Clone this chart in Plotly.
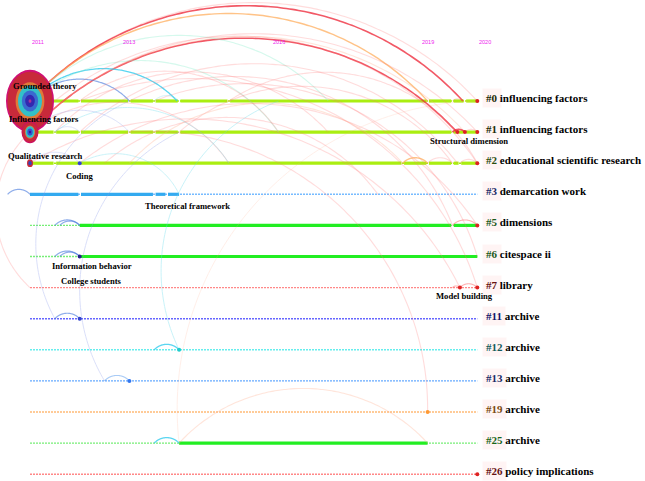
import numpy as np
import plotly.graph_objects as go

# ---------------------------------------------------------------- data
years_shown = [2011, 2013, 2016, 2019, 2020]

cluster_tags = ["#0", "#1", "#2", "#3", "#5", "#6", "#7", "#11", "#12", "#13", "#19", "#25", "#26"]
cluster_names = ["influencing factors", "influencing factors", "educational scientific research",
                 "demarcation work", "dimensions", "citespace ii", "library", "archive", "archive",
                 "archive", "archive", "archive", "policy implications"]
# years in which each cluster is active (solid part of its timeline)
cluster_active = [(2011.0, 2020.0), (2011.0, 2020.0), (2011.0, 2020.0), (2011.0, 2014.0),
                  (2012.0, 2020.0), (2012.0, 2020.0), None, None, None, None, None,
                  (2014.0, 2019.0), None]
# publication years of the nodes sitting on each timeline
cluster_nodes = [
    [2011.0, 2012.0, 2013.0, 2013.5, 2014.0, 2015.0, 2019.0, 2019.5, 2019.75, 2020.0],
    [2011.0, 2011.5, 2012.0, 2013.0, 2013.5, 2014.0, 2019.5, 2019.6, 2019.75, 2020.0],
    [2011.0, 2011.5, 2012.0, 2018.5, 2019.0, 2019.5, 2019.65, 2020.0],
    [2011.0, 2012.0, 2013.5, 2013.75, 2014.0],
    [2011.5, 2012.0, 2019.5, 2020.0],
    [2011.5, 2012.0],
    [2019.5, 2019.65, 2020.0],
    [2011.5, 2012.0],
    [2013.5, 2014.0],
    [2012.5, 2013.0],
    [2019.0],
    [2013.5, 2014.0, 2019.0],
    [2020.0],
]

# highlighted keywords: (label, year, row)
key_terms = [
    ("Grounded theory", 2011.0, 0),
    ("Influencing factors", 2011.0, 1),
    ("Qualitative research", 2011.0, 2),
    ("Coding", 2012.0, 2),
    ("Theoretical framework", 2014.0, 3),
    ("Information behavior", 2012.0, 5),
    ("College students", 2012.0, 5),
    ("Structural dimension", 2019.75, 1),
    ("Model building", 2019.65, 6),
]
# citation frequency of the three large nodes (drives their ring size)
key_node_freq = {"Grounded theory": 24.0, "Influencing factors": 8.5, "Qualitative research": 3.0}

# small node marks: (year, row, colour key)
node_marks = [
    (2020.0, 0, "red"), (2019.6, 1, "red"), (2019.75, 1, "red"), (2020.0, 1, "red"),
    (2020.0, 2, "red"), (2012.0, 2, "blue"), (2020.0, 4, "red"), (2012.0, 5, "navy"),
    (2019.65, 6, "red"), (2020.0, 6, "red"), (2012.0, 7, "blue"), (2014.0, 8, "cyan"),
    (2013.0, 9, "sky"), (2019.0, 10, "orange"), (2020.0, 12, "red"),
]

# co-occurrence links: (year_a, row_a, year_b, row_b, kind)
citation_links = [
    (2011.0, 0, 2020.0, 0, "pink"),
    (2011.0, 0, 2019.71, 0, "red"),
    (2011.0, 0, 2019.0, 0, "orange"),
    (2011.0, 1, 2019.59, 1, "red"),
    (2011.0, 1, 2019.75, 1, "peach"),
    (2011.0, 1, 2020.0, 1, "pink"),
    (2011.0, 0, 2013.96, 0, "cyan"),
    (2011.0, 0, 2013.0, 0, "blue"),
    (2011.0, 0, 2016.0, 1, "mint"),
    (2011.0, 0, 2017.0, 0, "mint"),
    (2011.5, 0, 2020.0, 2, "pink"),
    (2012.0, 1, 2019.6, 2, "pink"),
    (2011.0, 2, 2019.65, 6, "pink"),
    (2012.0, 2, 2020.0, 4, "pink"),
    (2013.0, 1, 2019.0, 10, "pink"),
    (2012.0, 0, 2020.0, 6, "pink"),
    (2013.5, 0, 2020.0, 5, "pink"),
    (2014.0, 1, 2019.5, 2, "pink"),
    (2015.0, 0, 2020.0, 2, "pink"),
    (2013.0, 2, 2018.5, 2, "peach"),
    (2011.5, 1, 2017.0, 1, "pink"),
    (2012.0, 0, 2016.0, 1, "pink"),
    (2011.0, 1, 2015.0, 2, "pink"),
    (2012.5, 2, 2018.0, 3, "pink"),
    (2013.0, 0, 2019.5, 4, "pink"),
    (2011.5, 1, 2015.0, 2, "ice"),
    (2012.0, 2, 2014.0, 3, "ice"),
    (2011.0, 1, 2013.0, 1, "lavender"),
    (2011.5, 1, 2012.0, 1, "lavender"),
    (2011.0, 2, 2012.0, 2, "lavender"),
    (2011.5, 7, 2013.0, 0, "lavender"),
    (2012.5, 9, 2014.0, 1, "lavender"),
    (2014.0, 8, 2016.0, 0, "ice"),
    (2014.0, 11, 2020.0, 0, "faint"),
    (2011.0, 6, 2011.0, 1, "pink"),
    (2010.55, 3, 2011.0, 3, "blue"),
    (2014.0, 11, 2019.0, 11, "peach"),
    # short links along the timelines
    (2013.5, 0, 2014.0, 0, "ice"),
    (2019.5, 0, 2019.71, 0, "pink"),
    (2019.5, 1, 2019.75, 1, "red"),
    (2019.75, 1, 2020.0, 1, "pink"),
    (2018.5, 2, 2019.0, 2, "orange"),
    (2019.0, 2, 2019.5, 2, "pink"),
    (2019.65, 2, 2020.0, 2, "pink"),
    (2011.5, 4, 2012.0, 4, "blue"),
    (2011.6, 4, 2012.0, 4, "blue"),
    (2019.5, 4, 2020.0, 4, "rose"),
    (2011.5, 5, 2012.0, 5, "blue"),
    (2011.6, 5, 2012.0, 5, "blue"),
    (2019.5, 6, 2019.65, 6, "rose"),
    (2019.65, 6, 2020.0, 6, "rose"),
    (2011.5, 7, 2012.0, 7, "blue"),
    (2013.5, 8, 2014.0, 8, "cyan"),
    (2012.5, 9, 2013.0, 9, "sky"),
    (2013.5, 11, 2014.0, 11, "cyan"),
]

# ---------------------------------------------------------------- styles
W, H = 645, 481
X0_PX, PX_YEAR, YEAR0 = 30.0, 49.7, 2011
Y0_PX, PX_ROW = 101.0, 31.1
ARC_ANGLE = np.radians(95)

LINK_STYLE = {
    "red": ("#ee2233", 0.75, 1.6),
    "rose": ("#ff6666", 0.5, 1.1),
    "pink": ("#ff7777", 0.25, 1.1),
    "faint": ("#ffaa88", 0.18, 1.0),
    "orange": ("#ffaa55", 0.7, 1.4),
    "peach": ("#ffaa88", 0.3, 1.1),
    "cyan": ("#33ccee", 0.8, 1.3),
    "blue": ("#4477dd", 0.6, 1.2),
    "mint": ("#88eecc", 0.35, 1.1),
    "ice": ("#66ddee", 0.35, 1.0),
    "lavender": ("#8899ee", 0.3, 1.0),
    "sky": ("#5599ee", 0.5, 1.1),
}
MARK_COLOR = {"red": "#dd2222", "blue": "#3344cc", "navy": "#222288", "cyan": "#22cccc",
              "sky": "#3377ee", "orange": "#ff9933"}

ROW_SOLID = ["#aaee11", "#aaee11", "#aaee11", "#33aaf0", "#22ee22", "#22ee22", "#ff7777",
             "#5555ff", "#44eeee", "#55aaff", "#ffaa66", "#22ee22", "#ff7777"]
ROW_DOTTED = ["#aaee11", "#aaee11", "#aaee11", "#77bbff", "#77ee77", "#77ee77", "#ff8888",
              "#6666ff", "#66eeee", "#66aaff", "#ffbb77", "#77ee77", "#ff8888"]
TAG_COLOR = ["#1b2a05", "#1b2a05", "#2a4d10", "#1a2a66", "#1a5a1a", "#1a5a1a", "#661111",
             "#111166", "#145a5a", "#1a2a66", "#7a4a10", "#1a661a", "#661111"]

RINGS = {
    "Grounded theory": [(1.0, "#d01075"), (0.94, "#c82a3a"), (0.6, "#e07a38"), (0.5, "#33c0c8"),
                        (0.34, "#3a6ad0"), (0.2, "#3328b0"), (0.06, "#aa3399")],
    "Influencing factors": [(1.0, "#cc1060"), (0.9, "#c82a3a"), (0.6, "#e07a38"),
                            (0.52, "#33c0c8"), (0.32, "#3355cc"), (0.12, "#331199")],
    "Qualitative research": [(1.0, "#c82a3a"), (0.55, "#3344bb")],
}
ELLIPSE_RATIO = 1.3

# node-label offsets in pixels (dx, dy); dy positive is downwards
LABEL_OFFSET = {
    "Grounded theory": (15, -15), "Influencing factors": (14, -13),
    "Qualitative research": (15, -7), "Coding": (0, 13), "Theoretical framework": (8, 12),
    "Information behavior": (12, 9), "College students": (12, 24),
    "Structural dimension": (4, 9), "Model building": (5, 8),
}

SERIF = "Liberation Serif"
CLUSTER_FONT = 11.0


def to_px(year, row):
    return X0_PX + (year - YEAR0) * PX_YEAR, Y0_PX + row * PX_ROW


def to_data(px, py):
    return YEAR0 + (px - X0_PX) / PX_YEAR, (py - Y0_PX) / PX_ROW


def arc(ya, ra, yb, rb, n=80):
    """Circular arc between two nodes, bulging to the left of a->b on screen."""
    p1 = np.array(to_px(ya, ra))
    p2 = np.array(to_px(yb, rb))
    d = p2 - p1
    L = np.hypot(*d)
    R = L / (2 * np.sin(ARC_ANGLE / 2))
    normal = np.array([d[1], -d[0]]) / L
    c = (p1 + p2) / 2 - normal * R * np.cos(ARC_ANGLE / 2)
    v = p1 - c
    best = None
    for s in (1, -1):
        a = s * ARC_ANGLE
        rot = np.array([[np.cos(a), -np.sin(a)], [np.sin(a), np.cos(a)]]) @ v
        err = np.hypot(*(c + rot - p2))
        if best is None or err < best[0]:
            best = (err, s)
    s = best[1]
    phis = np.linspace(0, s * ARC_ANGLE, n)
    xs = c[0] + v[0] * np.cos(phis) - v[1] * np.sin(phis)
    ys = c[1] + v[0] * np.sin(phis) + v[1] * np.cos(phis)
    return to_data(xs, ys)


fig = go.Figure()
n_rows = len(cluster_tags)

# dotted background of every timeline
for r in range(n_rows):
    fig.add_trace(go.Scatter(
        x=[years_shown[0], years_shown[-1]], y=[r, r], mode="lines",
        line=dict(color=ROW_DOTTED[r], width=1.4, dash="2px,1px"),
        hoverinfo="skip", showlegend=False))

# solid, active part of the timelines, broken at node positions
gap = 1.3 / PX_YEAR
for r in range(n_rows):
    span = cluster_active[r]
    if span is None:
        continue
    a, b = span
    stops = sorted(set([a, b] + [y for y in cluster_nodes[r] if a <= y <= b]))
    xs, ys = [], []
    for u, v in zip(stops[:-1], stops[1:]):
        xs += [u + (gap if u > a else 0), v - (gap if v < b else 0), None]
        ys += [r, r, None]
    fig.add_trace(go.Scatter(x=xs, y=ys, mode="lines",
                             line=dict(color=ROW_SOLID[r], width=3.2),
                             hoverinfo="skip", showlegend=False))

# links
for ya, ra, yb, rb, kind in citation_links:
    col, op, w = LINK_STYLE[kind]
    ax, ay = arc(ya, ra, yb, rb)
    fig.add_trace(go.Scatter(x=ax, y=ay, mode="lines", opacity=op,
                             line=dict(color=col, width=w, shape="spline"),
                             hoverinfo="skip", showlegend=False))

# small node marks
fig.add_trace(go.Scatter(
    x=[m[0] for m in node_marks], y=[m[1] for m in node_marks], mode="markers",
    marker=dict(size=4, color=[MARK_COLOR[m[2]] for m in node_marks], line=dict(width=0)),
    hoverinfo="skip", showlegend=False))

# large ring nodes
shapes = []
for name, yr, row in key_terms:
    if name not in key_node_freq:
        continue
    rx = key_node_freq[name]
    for frac, col in RINGS[name]:
        hx = rx * frac / PX_YEAR
        hy = rx * frac * ELLIPSE_RATIO / PX_ROW
        shapes.append(dict(type="circle", xref="x", yref="y", layer="above",
                           x0=yr - hx, x1=yr + hx, y0=row - hy, y1=row + hy,
                           fillcolor=col, line=dict(width=0)))

annotations = []
# year scale
for i, yv in enumerate(years_shown):
    anchor = "left" if i in (0, len(years_shown) - 1) else "center"
    annotations.append(dict(x=yv, y=to_data(0, 42)[1], text=str(yv), showarrow=False,
                            xanchor=anchor, yanchor="middle",
                            font=dict(family="Liberation Sans", size=5.5, color="#ee22ee")))

# keyword labels
for name, yr, row in key_terms:
    dx, dy = LABEL_OFFSET[name]
    annotations.append(dict(x=yr, y=row, text=name, showarrow=False, xshift=dx, yshift=-dy,
                            xanchor="center", yanchor="middle",
                            font=dict(family=SERIF, size=8.6, color="black", weight="bold")))

# cluster labels
for r in range(n_rows):
    annotations.append(dict(x=years_shown[-1], y=r, text=cluster_tags[r], showarrow=False,
                            xanchor="left", yanchor="middle", xshift=5, yshift=3,
                            bgcolor="rgba(255,215,215,0.28)", borderpad=3,
                            font=dict(family=SERIF, size=CLUSTER_FONT, color="rgba(0,0,0,0)",
                                      weight="bold")))
    annotations.append(dict(x=years_shown[-1], y=r,
                            text=f"<span style='color:{TAG_COLOR[r]}'>{cluster_tags[r]}</span> {cluster_names[r]}",
                            showarrow=False, xanchor="left", yanchor="middle", xshift=5, yshift=3,
                            borderpad=3,
                            font=dict(family=SERIF, size=CLUSTER_FONT, color="black", weight="bold")))

x_lo, _ = to_data(0, 0)
x_hi, _ = to_data(W, 0)
_, y_top = to_data(0, 0)
_, y_bot = to_data(0, H)

fig.update_layout(
    width=W, height=H, margin=dict(l=0, r=0, t=0, b=0),
    paper_bgcolor="white", plot_bgcolor="white",
    xaxis=dict(range=[x_lo, x_hi], visible=False, fixedrange=True),
    yaxis=dict(range=[y_bot, y_top], visible=False, fixedrange=True),
    shapes=shapes, annotations=annotations, showlegend=False,
)

fig.write_html("out.html")
